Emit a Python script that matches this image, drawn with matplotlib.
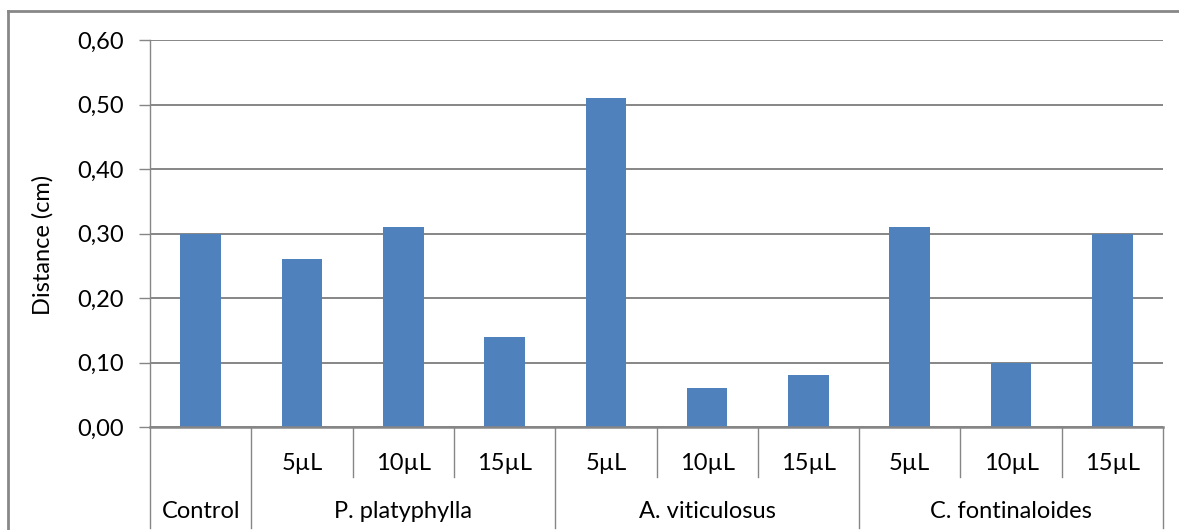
import matplotlib
matplotlib.use("Agg")
import matplotlib.pyplot as plt
from matplotlib import transforms
from matplotlib.lines import Line2D

plt.rcParams['font.family'] = ['Lato', 'DejaVu Sans']

# data
groups = ["Control", "P. platyphylla", "A. viticulosus", "C. fontinaloides"]
group_sizes = [1, 3, 3, 3]
sub_labels = ["", "5µL", "10µL", "15µL", "5µL", "10µL", "15µL", "5µL", "10µL", "15µL"]
values = [0.30, 0.26, 0.31, 0.14, 0.51, 0.06, 0.08, 0.31, 0.10, 0.30]
yticks = [0.0, 0.1, 0.2, 0.3, 0.4, 0.5, 0.6]
ytick_labels = ["0,00", "0,10", "0,20", "0,30", "0,40", "0,50", "0,60"]

W, H = 1179, 530
FS = 17
fig = plt.figure(figsize=(W / 100, H / 100), dpi=100)
ax = fig.add_axes([150 / W, (H - 427) / H, (1163 - 150) / W, (427 - 40) / H])

grid_c = "#868686"
x = list(range(len(values)))
ax.bar(x, values, width=0.4, color="#4F81BD", zorder=3)
ax.set_xlim(-0.5, len(values) - 0.5)
ax.set_ylim(0, 0.6)
ax.set_yticks(yticks)
ax.set_yticklabels(ytick_labels, fontsize=FS, color="#000000")
ax.tick_params(axis='y', length=8, width=1, color=grid_c, pad=10.8)
ax.set_xticks([])
ax.yaxis.grid(True, color=grid_c, linewidth=1.4, zorder=0)
for s in ["top", "right", "bottom"]:
    ax.spines[s].set_visible(False)
ax.spines["left"].set_color(grid_c)
ax.spines["left"].set_linewidth(1.0)
ax.axhline(0, color=grid_c, linewidth=1.8, zorder=4, clip_on=False)
ax.set_ylabel("Distance (cm)", fontsize=FS)
ax.yaxis.set_label_coords((43 - 150) / (1163 - 150), (427 - 245) / (427 - 40))
ax.yaxis.label.set_va("center")

blend = transforms.blended_transform_factory(ax.transData, fig.transFigure)

def fy(py):
    return (H - py) / H

# sub labels
for i, lab in enumerate(sub_labels):
    if lab:
        ax.text(i, fy(463), lab, transform=blend, ha="center", va="center",
                fontsize=FS, clip_on=False)

# group labels and separators
start = 0
full_bounds = [-0.5]
for g, n in zip(groups, group_sizes):
    center = start + (n - 1) / 2
    ax.text(center, fy(511), g, transform=blend, ha="center", va="center",
            fontsize=FS, clip_on=False)
    for k in range(1, n):
        b = start + k - 0.5
        ax.add_line(Line2D([b, b], [fy(427), fy(477)], transform=blend,
                           color=grid_c, linewidth=1.0, clip_on=False))
    start += n
    full_bounds.append(start - 0.5)
for b in full_bounds:
    ax.add_line(Line2D([b, b], [fy(427), fy(528)], transform=blend,
                       color=grid_c, linewidth=1.0, clip_on=False))

# outer chart frame
fig.add_artist(Line2D([8 / W, 8 / W], [0, fy(11)], transform=fig.transFigure,
                      color="#888888", linewidth=2.0))
fig.add_artist(Line2D([8 / W, 1], [fy(11), fy(11)], transform=fig.transFigure,
                      color="#888888", linewidth=2.0))

fig.savefig("out.png", dpi=100)
